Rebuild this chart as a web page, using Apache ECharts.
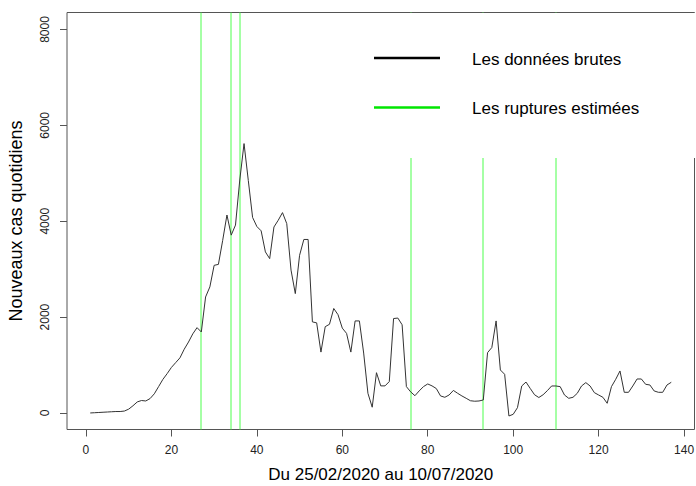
<!DOCTYPE html>
<html>
<head>
<meta charset="utf-8">
<script src="https://cdn.jsdelivr.net/npm/echarts@6/dist/echarts.min.js"></script>
<style>
  html, body { margin: 0; padding: 0; background: #fff; }
  #main { width: 696px; height: 486px; }
</style>
</head>
<body>
<div id="main"></div>
<script>
// daily new cases, day 1 = 25/02/2020 ... day 137 = 10/07/2020
var cases = [
  0, 5, 10, 15, 20, 25, 30, 30, 40, 80,
  150, 230, 260, 250, 300, 400, 550, 700, 820, 950,
  1050, 1150, 1330, 1480, 1650, 1780, 1690, 2420, 2630, 3080,
  3100, 3600, 4130, 3710, 3920, 4860, 5620, 4850, 4080, 3890,
  3800, 3360, 3220, 3880, 4020, 4180, 3950, 2980, 2490, 3290,
  3620, 3620, 1900, 1880, 1270, 1800, 1850, 2180, 2050, 1770,
  1660, 1270, 1920, 1920, 1250, 410, 120, 840, 565, 565,
  655, 1970, 1980, 1840, 550, 440, 360, 460, 550, 605,
  565, 510, 355, 327, 375, 470, 410, 355, 306, 255,
  245, 250, 271, 1258, 1365, 1920, 897, 807, -63, -28,
  110, 563, 645, 510, 380, 322, 380, 466, 563, 563,
  549, 375, 306, 327, 410, 563, 633, 563, 424, 375,
  327, 202, 549, 703, 876, 431, 431, 563, 709, 709,
  598, 584, 459, 431, 431, 584, 640
];
// estimated change points (day index)
var ruptures = [27, 34, 36, 76, 93, 110];
var xTicks = [0, 20, 40, 60, 80, 100, 120, 140];
var yTicks = [0, 2000, 4000, 6000, 8000];
var legendLabels = ['Les données brutes', 'Les ruptures estimées'];

var points = cases.map(function (v, i) { return [i + 1, v]; });

var font = 'Liberation Sans, Arial, sans-serif';
var plain = function (v) { return String(v); };
var chart = echarts.init(document.getElementById('main'), null, { renderer: 'svg' });

chart.setOption({
  animation: false,
  backgroundColor: '#fff',
  grid: {
    left: 67, right: 1.5, top: 12.5, bottom: 56.5,
    containLabel: false, outerBoundsMode: 'none',
    show: true, borderColor: '#555', borderWidth: 1, backgroundColor: 'transparent'
  },
  xAxis: {
    type: 'value',
    min: -4.44, max: 142.44,
    name: 'Du 25/02/2020 au 10/07/2020',
    nameLocation: 'middle',
    nameGap: 36,
    nameTextStyle: { fontFamily: font, fontSize: 17, color: '#000' },
    axisLine: { show: false, onZero: false },
    axisTick: { show: true, customValues: xTicks, length: 7, inside: false, lineStyle: { color: '#555' } },
    axisLabel: { customValues: xTicks, formatter: plain, margin: 14, fontFamily: font, fontSize: 12, color: '#222' },
    splitLine: { show: false }
  },
  yAxis: {
    type: 'value',
    min: -345, max: 8355,
    name: 'Nouveaux cas quotidiens',
    nameLocation: 'middle',
    nameRotate: 90,
    nameGap: 42,
    nameTextStyle: { fontFamily: font, fontSize: 18, color: '#000' },
    axisLine: { show: false, onZero: false },
    axisTick: { show: true, customValues: yTicks, length: 7, inside: false, lineStyle: { color: '#555' } },
    axisLabel: { customValues: yTicks, formatter: plain, rotate: 90, margin: 16, fontFamily: font, fontSize: 12, color: '#222' },
    splitLine: { show: false }
  },
  series: [
    {
      type: 'custom',
      data: ruptures,
      silent: true,
      z: 2,
      renderItem: function (params, api) {
        var cs = params.coordSys;
        // snapped to a pixel edge so the 1px line spreads over two columns (soft green, like the original)
        var x = Math.round(api.coord([api.value(0), 0])[0]);
        return {
          type: 'line',
          shape: { x1: x, y1: cs.y, x2: x, y2: cs.y + cs.height },
          style: { stroke: '#4cff4c', lineWidth: 1 }
        };
      }
    },
    {
      type: 'line',
      data: points,
      symbol: 'none',
      lineStyle: { color: '#333', width: 1 },
      z: 3
    }
  ],
  graphic: [
    // legend background (white, like R's legend bg) hides the top of later lines
    { type: 'rect', z: 100, shape: { x: 345, y: 13, width: 351, height: 145 }, style: { fill: '#fff' } },
    { type: 'line', z: 101, shape: { x1: 374, y1: 58, x2: 440, y2: 58 }, style: { stroke: '#000', lineWidth: 2.5 } },
    { type: 'line', z: 101, shape: { x1: 374, y1: 107.5, x2: 440, y2: 107.5 }, style: { stroke: '#00e600', lineWidth: 2.5 } },
    { type: 'text', z: 101, x: 472, y: 59, style: { text: legendLabels[0], font: '17px ' + font, fill: '#000', verticalAlign: 'middle' } },
    { type: 'text', z: 101, x: 472, y: 108, style: { text: legendLabels[1], font: '17px ' + font, fill: '#000', verticalAlign: 'middle' } }
  ]
});
</script>
</body>
</html>
